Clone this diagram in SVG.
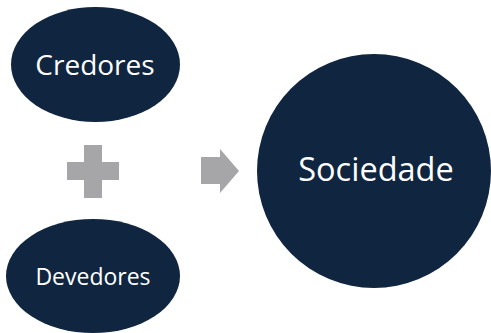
<svg xmlns="http://www.w3.org/2000/svg" width="491" height="333" viewBox="0 0 491 333">
<style>
.node{fill:#10253f;}
.lbl{fill:#ffffff;font-family:"Open Sans","Noto Sans",sans-serif;text-anchor:middle;}
.sym{fill:#a6a6a9;}
</style>
<rect width="491" height="333" fill="#ffffff"/>
<g id="credores"><ellipse class="node" cx="95.5" cy="64.5" rx="84.5" ry="57.5"/><text class="lbl" x="95" y="75" font-size="28">Credores</text></g>
<g id="devedores"><ellipse class="node" cx="93" cy="276" rx="87" ry="57"/><text class="lbl" x="93" y="285" font-size="23">Devedores</text></g>
<g id="sociedade"><circle class="node" cx="374" cy="171" r="117"/><text class="lbl" x="376" y="181" font-size="32.5">Sociedade</text></g>
<g id="connectors">
<path class="sym" d="M84 145H102V162H119V180H102V198H84V180H67V162H84Z"/>
<path class="sym" d="M201 157H220V149L239 171L220 193V184H201Z"/>
</g>
</svg>
